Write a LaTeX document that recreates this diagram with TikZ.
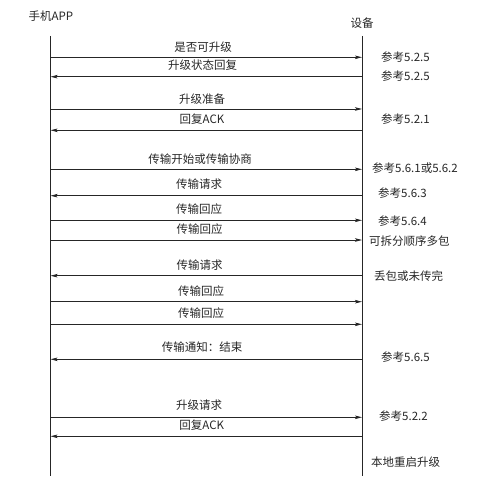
\documentclass[tikz,border=0pt]{standalone}
\usepackage{fontspec}
\setmainfont{Noto Sans CJK SC}
\usetikzlibrary{arrows.meta}
\begin{document}
\begin{tikzpicture}[x=1bp,y=-1bp,
  every node/.style={font=\fontsize{11.5bp}{13bp}\selectfont, text=black!85, inner sep=0pt},
  life/.style={draw=black!85, line width=0.8bp},
  msg/.style={draw=black!85, line width=0.8bp},
  r/.style={-{Stealth[length=7bp,width=3.5bp,inset=1.5bp]}},
  l/.style={{Stealth[length=7bp,width=3.5bp,inset=1.5bp]}-},
  lbl/.style={anchor=center},
  note/.style={anchor=west}]
\useasboundingbox (0,0) rectangle (478,478);
\node (app) at (51,16) {手机APP};
\node (dev) at (362,22.7) {设备};
\coordinate (Ltop) at (50.5,36);
\coordinate (Lbot) at (50.5,476);
\coordinate (Rtop) at (362,36);
\coordinate (Rbot) at (362,476);
\draw[life] (Ltop) -- (Lbot);
\draw[life] (Rtop) -- (Rbot);
% messages
\foreach \y/\d/\t/\cx/\ty in {
  57.3/r/是否可升级/203/46.7,
  76.7/l/升级状态回复/202.7/65,
  109/r/升级准备/202/98.7,
  130.3/l/回复ACK/202/119,
  169.3/r/传输开始或传输协商/200/159.3,
  195.7/l/传输请求/199/184.3,
  220.3/r/传输回应/199/209.3,
  240/r/传输回应/199.5/229.3,
  275.7/l/传输请求/199.5/265,
  301.7/r/传输回应/201/291,
  324.3/r/传输回应/201/313.3,
  359.3/l/传输通知：结束/202/346.7,
  417.3/r/升级请求/199/405,
  436.3/l/回复ACK/201.7/425.3}{
  \coordinate (a) at (50.5,\y);
  \coordinate (b) at (362,\y);
  \draw[msg,\d] (a) -- (b);
  \node[lbl] at (\cx,\ty) {\t};
}
% notes
\node[note] (n1) at (381,57.3) {参考5.2.5};
\node[note] (n2) at (381,76) {参考5.2.5};
\node[note] (n3) at (381,119) {参考5.2.1};
\node[note] (n4) at (372,168.3) {参考5.6.1或5.6.2};
\node[note] (n5) at (378,193.3) {参考5.6.3};
\node[note] (n6) at (378,220.7) {参考5.6.4};
\node[note] (n7) at (369,240.7) {可拆分顺序多包};
\node[note] (n8) at (374,275.7) {丢包或未传完};
\node[note] (n9) at (381,357.3) {参考5.6.5};
\node[note] (n10) at (379,415.7) {参考5.2.2};
\node[note] (n11) at (371,461.7) {本地重启升级};
\end{tikzpicture}
\end{document}
